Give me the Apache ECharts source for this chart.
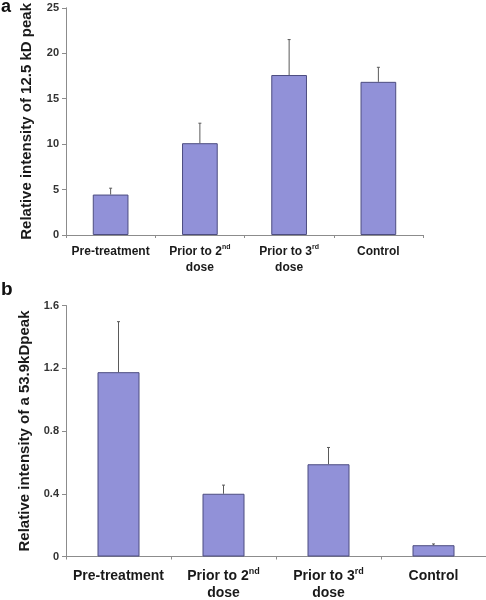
<!DOCTYPE html>
<html>
<head>
<meta charset="utf-8">
<script src="https://cdn.jsdelivr.net/npm/echarts@6/dist/echarts.min.js"></script>
<style>html,body{margin:0;padding:0;background:#fff}#c{width:486px;height:600px}</style>
</head>
<body>
<div id="c"></div>
<script>
var categories = ['Pre-treatment', 'Prior to 2nd dose', 'Prior to 3rd dose', 'Control'];
var meansA = [4.45, 10.1, 17.6, 16.85];
var errTopA = [5.15, 12.3, 21.5, 18.45];
var meansB = [1.175, 0.4, 0.588, 0.072];
var errTopB = [1.497, 0.455, 0.695, 0.08];
var yTicksA = [0, 5, 10, 15, 20, 25];
var yTicksB = [0, 0.4, 0.8, 1.2, 1.6];

var barColor = '#9191d8';
var barBorder = '#4d4d80';
var font = 'Liberation Sans, Arial, sans-serif';

function catLabel(v) {
  var m = v.match(/^Prior to (\d)(nd|rd) dose$/);
  if (m) return '{t|Prior to ' + m[1] + '}{s|' + m[2] + '}\n{t|dose}';
  return '{t|' + v + '}';
}
function rich(size, lh) {
  return {
    t: {fontSize: size, fontWeight: 'bold', fontFamily: font, color: '#1a1a1a', lineHeight: lh},
    s: {fontSize: Math.round(size * 0.62), fontWeight: 'bold', fontFamily: font, color: '#1a1a1a', verticalAlign: 'top', padding: [0, 0, Math.round(size * 0.45), 0], lineHeight: lh}
  };
}

function errSeries(xi, yi, means, tops) {
  return {
    type: 'custom', xAxisIndex: xi, yAxisIndex: yi, z: 5,
    data: means.map(function (m, i) { return [i, m, tops[i]]; }),
    renderItem: function (params, api) {
      var p0 = api.coord([api.value(0), api.value(1)]);
      var p1 = api.coord([api.value(0), api.value(2)]);
      var st = {stroke: '#5a5a5a', lineWidth: 1};
      return {type: 'group', children: [
        {type: 'line', shape: {x1: p0[0], y1: p0[1], x2: p1[0], y2: p1[1]}, style: st},
        {type: 'line', shape: {x1: p1[0] - 1.5, y1: p1[1], x2: p1[0] + 1.5, y2: p1[1]}, style: st}
      ]};
    }
  };
}

function yAxis(gi, ticks, name, nameSize, nameGap, labelSize) {
  var iv = ticks[1] - ticks[0];
  return {
    type: 'value', gridIndex: gi, min: ticks[0], max: ticks[ticks.length - 1], interval: iv,
    name: name, nameLocation: 'middle', nameGap: nameGap, nameRotate: 90,
    nameTextStyle: {fontSize: nameSize, fontWeight: 'bold', fontFamily: font, color: '#1a1a1a'},
    axisLine: {show: true, lineStyle: {color: '#8c8c8c', width: 1}},
    axisTick: {show: true, length: 4, lineStyle: {color: '#8c8c8c'}},
    splitLine: {show: false},
    axisLabel: {fontSize: labelSize, fontWeight: 'bold', fontFamily: font, color: '#333', margin: 7,
      formatter: function (v) { return String(v); }}
  };
}
function xAxis(gi, size, lh, margin) {
  return {
    type: 'category', gridIndex: gi, data: categories,
    axisLine: {lineStyle: {color: '#8c8c8c', width: 1}},
    axisTick: {show: true, length: 3, lineStyle: {color: '#8c8c8c'}},
    axisLabel: {interval: 0, margin: margin, formatter: catLabel, rich: rich(size, lh), align: 'center'}
  };
}

var chart = echarts.init(document.getElementById('c'), null, {renderer: 'canvas'});
chart.setOption({
  animation: false,
  backgroundColor: '#fff',
  graphic: [
    {type: 'text', left: 1, top: -2, style: {text: 'a', fontSize: 18, fontWeight: 'bold', fontFamily: font, fill: '#111'}},
    {type: 'text', left: 1, top: 280, style: {text: 'b', fontSize: 19, fontWeight: 'bold', fontFamily: font, fill: '#111'}}
  ],
  grid: [
    {left: 66, top: 6, width: 357, height: 229},
    {left: 66, top: 305.5, width: 422, height: 252}
  ],
  xAxis: [xAxis(0, 12, 16, 9), xAxis(1, 14, 17, 11)],
  yAxis: [
    yAxis(0, yTicksA, 'Relative intensity of 12.5 kD peak', 15, 32, 11),
    yAxis(1, yTicksB, 'Relative intensity of a 53.9kDpeak', 15, 33, 11)
  ],
  series: [
    {type: 'bar', xAxisIndex: 0, yAxisIndex: 0, data: meansA, barWidth: '40%',
      itemStyle: {color: barColor, borderColor: barBorder, borderWidth: 1}},
    errSeries(0, 0, meansA, errTopA),
    {type: 'bar', xAxisIndex: 1, yAxisIndex: 1, data: meansB, barWidth: '40%',
      itemStyle: {color: barColor, borderColor: barBorder, borderWidth: 1}},
    errSeries(1, 1, meansB, errTopB)
  ]
});
</script>
</body>
</html>
